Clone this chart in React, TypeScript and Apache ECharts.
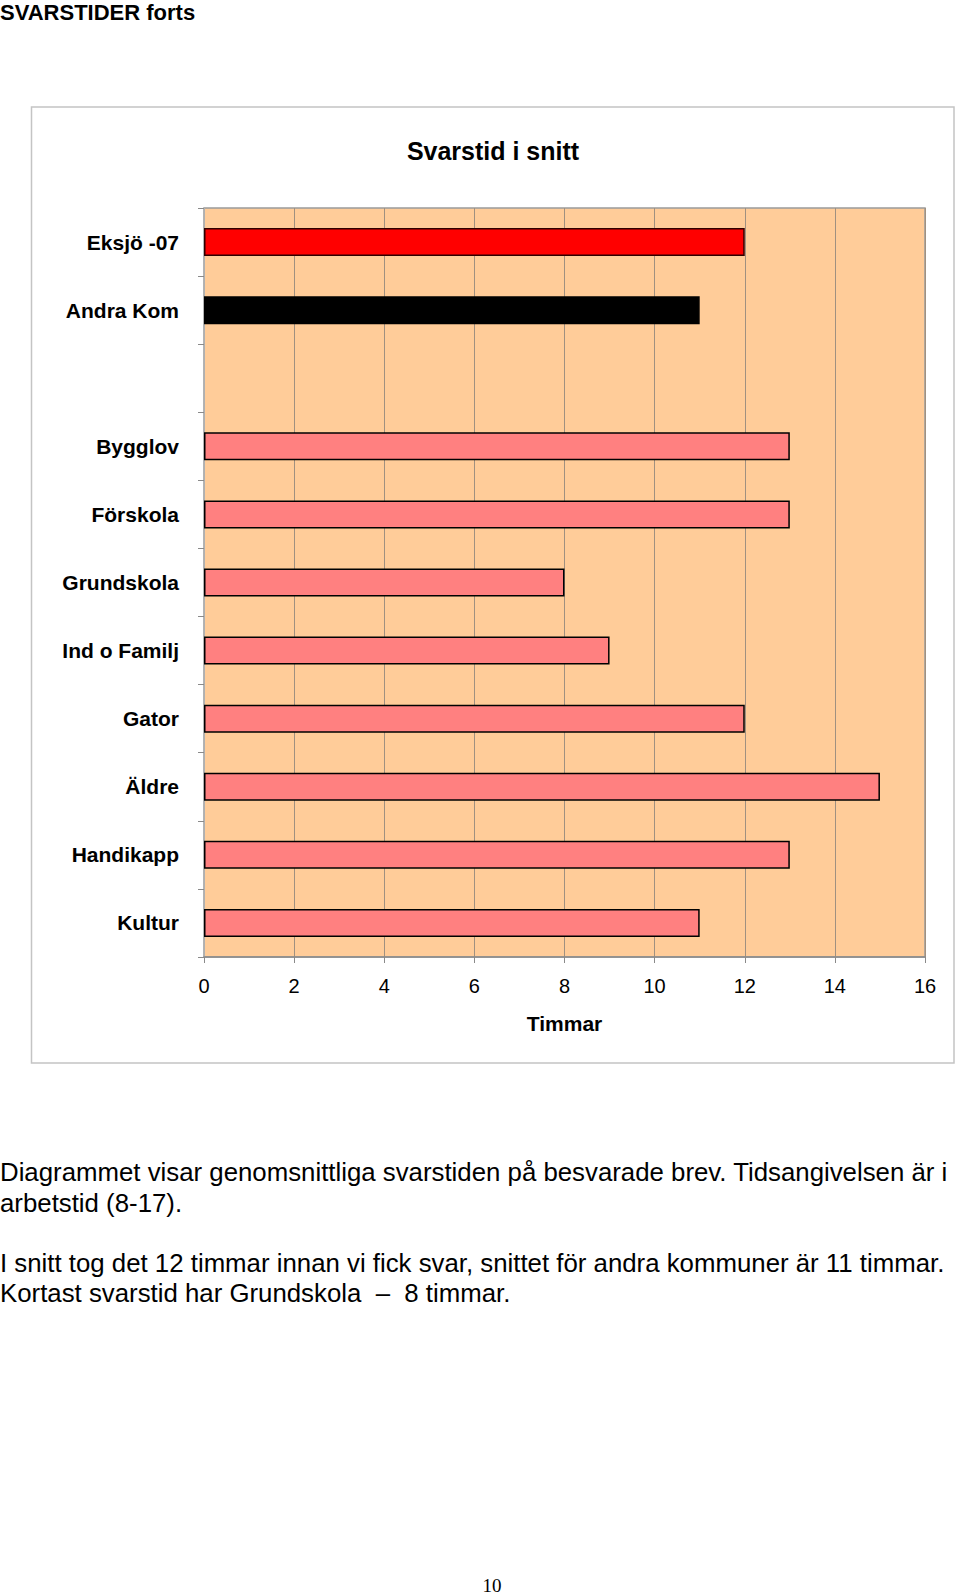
import React, { useEffect, useRef } from "react";
import * as echarts from "echarts";

const pageHeading = "SVARSTIDER forts";
const chartTitle = "Svarstid i snitt";
const axisName = "Timmar";
const categories = ["Eksjö -07", "Andra Kom", "", "Bygglov", "Förskola", "Grundskola", "Ind o Familj", "Gator", "Äldre", "Handikapp", "Kultur"];
const hours: (number | null)[] = [12, 11, null, 13, 13, 8, 9, 12, 15, 13, 11];
const barKinds = ["eksjo", "other", "none", "dept", "dept", "dept", "dept", "dept", "dept", "dept", "dept"];
const xTicks = [0, 2, 4, 6, 8, 10, 12, 14, 16];
const paragraphLines = [
  "Diagrammet visar genomsnittliga svarstiden på besvarade brev. Tidsangivelsen är i",
  "arbetstid (8-17).",
  "I snitt tog det 12 timmar innan vi fick svar, snittet för andra kommuner är 11 timmar.",
  "Kortast svarstid har Grundskola  –  8 timmar.",
];
const pageNumber = "10";

const kindStyle: Record<string, { color: string; borderColor: string }> = {
  eksjo: { color: "#FF0000", borderColor: "#300000" },
  other: { color: "#000000", borderColor: "#000000" },
  none: { color: "transparent", borderColor: "transparent" },
  dept: { color: "#FF8080", borderColor: "#000000" },
};

const FONT = "'Liberation Sans', Arial, sans-serif";

export default function App() {
  const ref = useRef<HTMLDivElement>(null);
  useEffect(() => {
    document.body.style.margin = "0";
    if (!ref.current) return;
    const chart = echarts.init(ref.current, null, { renderer: "svg" });
    const lineYs = [1172, 1203, 1263, 1293];
    chart.setOption({
      animation: false,
      backgroundColor: "#ffffff",
      title: {
        text: chartTitle,
        left: 493,
        top: 138,
        padding: 0,
        textAlign: "center",
        textStyle: { fontFamily: FONT, fontSize: 25, fontWeight: "bold", color: "#000" },
      },
      grid: {
        left: 204,
        top: 208,
        width: 721,
        height: 749,
        show: true,
        backgroundColor: "#FFCC99",
        borderColor: "#9a9a9a",
        borderWidth: 1.5,
        containLabel: false,
      },
      xAxis: {
        type: "value",
        min: xTicks[0],
        max: xTicks[xTicks.length - 1],
        interval: xTicks[1] - xTicks[0],
        name: axisName,
        nameLocation: "middle",
        nameGap: 56,
        nameTextStyle: { fontFamily: FONT, fontSize: 21, fontWeight: "bold", color: "#000" },
        axisLine: { show: true, lineStyle: { color: "#8a8a8a", width: 1.5 } },
        axisTick: { show: true, length: 6, lineStyle: { color: "#8a8a8a" } },
        axisLabel: { fontFamily: FONT, fontSize: 20, color: "#000", margin: 19 },
        splitLine: { show: true, lineStyle: { color: "#a09080", width: 1 } },
      },
      yAxis: {
        type: "category",
        inverse: true,
        data: categories,
        axisLine: { show: true, lineStyle: { color: "#b0b0b0", width: 1 } },
        axisTick: { show: true, length: 6, lineStyle: { color: "#8a8a8a" } },
        axisLabel: { fontFamily: FONT, fontSize: 21, fontWeight: "bold", color: "#000", margin: 25 },
        splitLine: { show: false },
      },
      series: [
        {
          type: "bar",
          barWidth: 28,
          data: hours.map((v, i) => ({
            value: v === null ? "-" : v,
            itemStyle: { ...kindStyle[barKinds[i]], borderWidth: 1.5 },
          })),
        },
      ],
      graphic: [
        {
          type: "rect",
          shape: { x: 31.5, y: 107, width: 922.5, height: 956 },
          style: { fill: "none", stroke: "#c4c4c4", lineWidth: 1.5 },
          z: -1,
        },
        {
          type: "text",
          x: 0,
          y: 12,
          style: { text: pageHeading, font: `bold 22px ${FONT}`, fill: "#000", textVerticalAlign: "middle" },
        },
        ...paragraphLines.map((t, i) => ({
          type: "text",
          x: 0,
          y: lineYs[i],
          style: { text: t, font: `25.8px ${FONT}`, fill: "#000", textVerticalAlign: "middle" },
        })),
        {
          type: "text",
          x: 492,
          y: 1585,
          style: { text: pageNumber, font: "19px 'Liberation Serif', 'Times New Roman', serif", fill: "#000", textAlign: "center", textVerticalAlign: "middle" },
        },
      ],
    });
    return () => chart.dispose();
  }, []);
  return <div ref={ref} style={{ width: 960, height: 1594 }} />;
}
